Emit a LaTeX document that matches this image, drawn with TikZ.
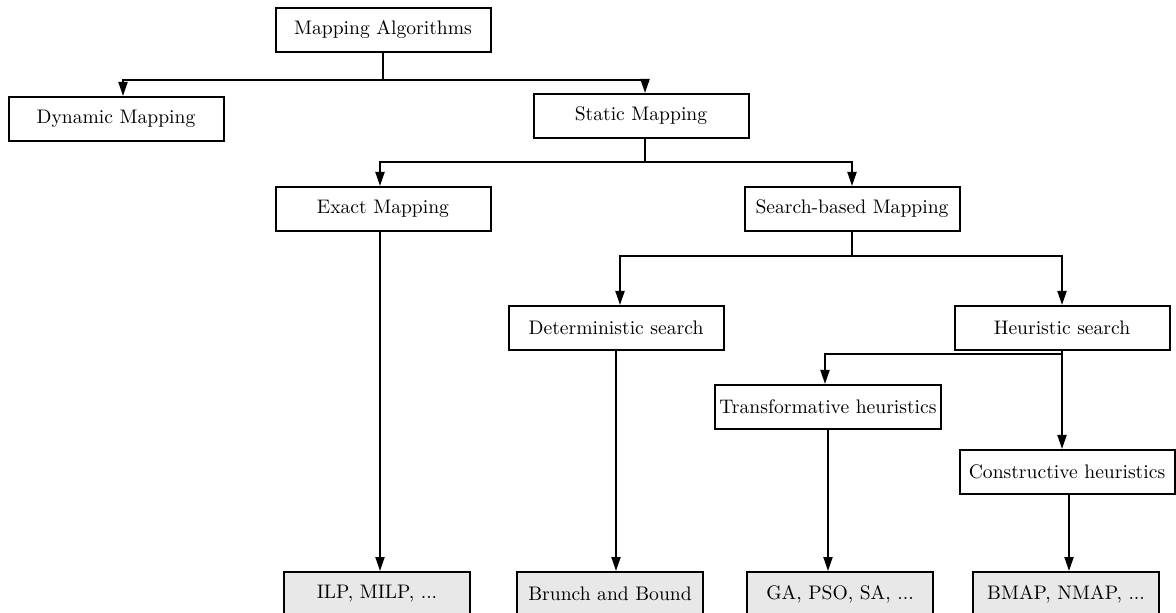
\documentclass[tikz,border=0pt]{standalone}
\usetikzlibrary{arrows.meta}
\begin{document}
\begin{tikzpicture}[x=0.5pt,y=-0.5pt,
  box/.style={draw,line width=1pt,minimum width=107.5pt,minimum height=22pt,inner xsep=2pt,inner ysep=0pt,font=\fontsize{9.8}{12}\selectfont},
  leaf/.style={box,fill=gray!18,minimum width=93pt},
  arr/.style={line width=1pt,-{Triangle[length=7pt,width=4.5pt]}},
  ln/.style={line width=1pt}]
\useasboundingbox (0,0) rectangle (1176,613);
\clip (0,0) rectangle (1176,613);
\node[box] (ma) at (383,30) {Mapping Algorithms};
\node[box] (dyn) at (116,119) {Dynamic Mapping};
\node[box] (sta) at (641,116) {Static Mapping};
\node[box] (ex) at (383,209) {Exact Mapping};
\node[box] (sb) at (852,209) {Search-based Mapping};
\node[box] (det) at (616,328) {Deterministic search};
\node[box] (heu) at (1062,328) {Heuristic search};
\node[box] (tra) at (828,407) {Transformative heuristics};
\node[box] (con) at (1067,472) {Constructive heuristics};
\node[leaf] (ilp) at (377,594) {ILP, MILP, ...};
\node[leaf] (bb) at (610,594) {Brunch and Bound};
\node[leaf] (ga) at (840,594) {GA, PSO, SA, ...};
\node[leaf] (bm) at (1066,594) {BMAP, NMAP, ...};
\coordinate (b1) at (383,80);
\coordinate (b2) at (645,162);
\coordinate (b3) at (852,256);
\coordinate (b4) at (1062,354);
\draw[ln] (ma.south) -- (b1);
\draw[arr] (b1) -| ([xshift=3.5pt]dyn.north);
\draw[arr] (b1) -| ([xshift=2pt]sta.north);
\draw[ln] ([xshift=2pt]sta.south) -- (b2);
\draw[arr] (b2) -| ([xshift=-1.5pt]ex.north);
\draw[arr] (b2) -| (sb.north);
\draw[ln] (sb.south) -- (b3);
\draw[arr] (b3) -| ([xshift=2pt]det.north);
\draw[arr] (b3) -| (heu.north);
\draw[arr] (heu.south) -- (con.north -| heu.south);
\draw[arr] (b4) -| ([xshift=-1.5pt]tra.north);
\draw[arr] ([xshift=-1.5pt]ex.south) -- ([xshift=-1.5pt]ex.south |- ilp.north);
\draw[arr] (det.south) -- (det.south |- bb.north);
\draw[arr] (tra.south) -- (tra.south |- ga.north);
\draw[arr] ([xshift=1pt]con.south) -- ([xshift=1pt]con.south |- bm.north);
\end{tikzpicture}
\end{document}
